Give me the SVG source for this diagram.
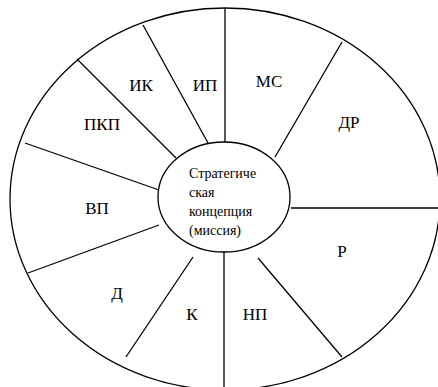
<svg xmlns="http://www.w3.org/2000/svg" width="438" height="387" viewBox="0 0 438 387">
<style>
.ln{stroke:#000;stroke-width:1.3;fill:none}
.lb{font-family:"Liberation Serif","DejaVu Serif",serif;font-size:17px;fill:#000;text-anchor:middle}
.ct{font-family:"Liberation Serif","DejaVu Serif",serif;font-size:14px;fill:#000}
</style>
<rect width="438" height="387" fill="#fff"/>
<g id="outer"><ellipse class="ln" cx="225" cy="199" rx="215" ry="191"/></g>
<g id="connectors">
<line class="ln" x1="225" y1="8" x2="225" y2="142"/>
<line class="ln" x1="143" y1="25" x2="208" y2="143"/>
<line class="ln" x1="77" y1="59" x2="176" y2="158"/>
<line class="ln" x1="25" y1="143" x2="159" y2="190"/>
<line class="ln" x1="28" y1="273" x2="159" y2="225"/>
<line class="ln" x1="126" y1="357" x2="193" y2="257"/>
<line class="ln" x1="224" y1="252" x2="224" y2="387"/>
<line class="ln" x1="258" y1="258" x2="342" y2="357"/>
<line class="ln" x1="291" y1="208" x2="438" y2="208"/>
<line class="ln" x1="342" y1="42" x2="275" y2="157"/>
</g>
<g id="center"><ellipse class="ln" cx="224" cy="197" rx="66" ry="55" fill="#fff"/>
<text class="ct" x="189" y="178">Стратегиче</text>
<text class="ct" x="189" y="197">ская</text>
<text class="ct" x="189" y="216">концепция</text>
<text class="ct" x="189" y="235">(миссия)</text>
</g>
<g id="n-ik"><text class="lb" x="141" y="91">ИК</text></g>
<g id="n-ip"><text class="lb" x="205" y="91">ИП</text></g>
<g id="n-ms"><text class="lb" x="269" y="87">МС</text></g>
<g id="n-dr"><text class="lb" x="349" y="128">ДР</text></g>
<g id="n-pkp"><text class="lb" x="102" y="130">ПКП</text></g>
<g id="n-vp"><text class="lb" x="97" y="214">ВП</text></g>
<g id="n-r"><text class="lb" x="342" y="257">Р</text></g>
<g id="n-d"><text class="lb" x="117" y="299">Д</text></g>
<g id="n-k"><text class="lb" x="192" y="320">К</text></g>
<g id="n-np"><text class="lb" x="255" y="320">НП</text></g>
</svg>
